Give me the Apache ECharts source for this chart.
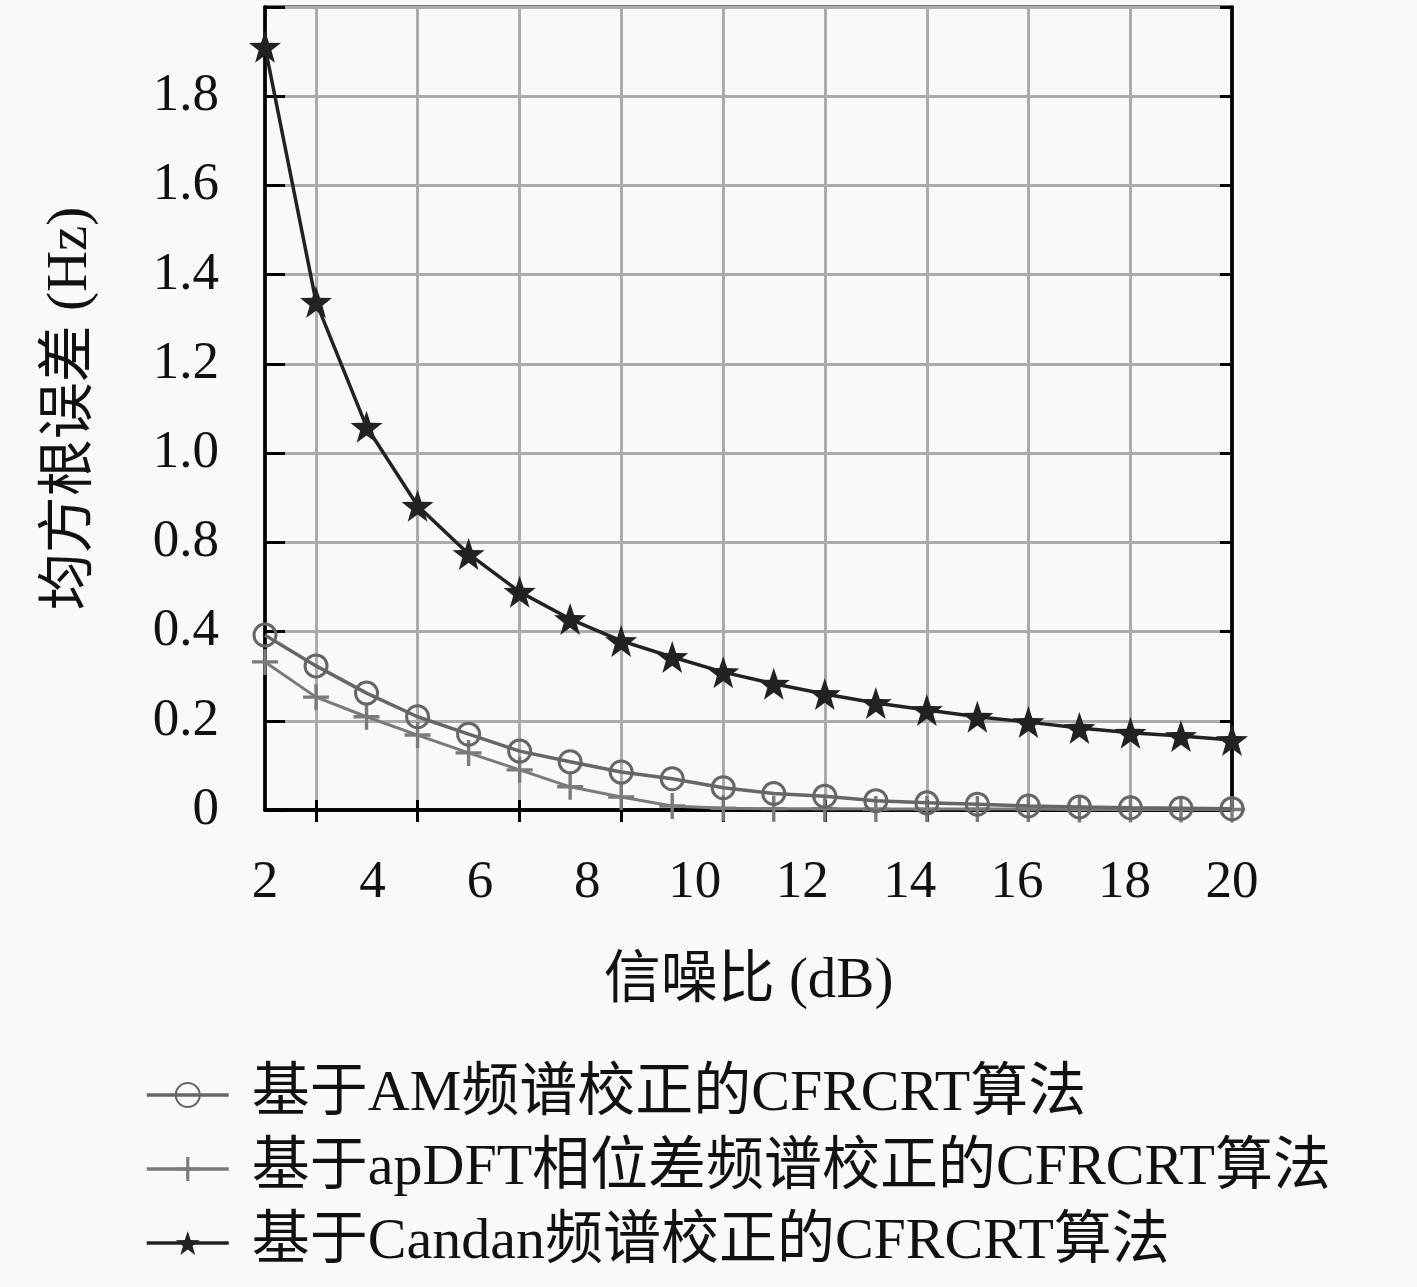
<!DOCTYPE html>
<html>
<head>
<meta charset="utf-8">
<script src="https://cdn.jsdelivr.net/npm/echarts@6/dist/echarts.min.js"></script>
<style>
html,body{margin:0;padding:0;background:#f9f9f9;}
#c{width:1417px;height:1287px;}
</style>
</head>
<body>
<div id="c"></div>
<script>
// SNR positions of the 20 markers (dB)
const snr = [2.00, 2.95, 3.89, 4.84, 5.79, 6.74, 7.68, 8.63, 9.58, 10.53, 11.47, 12.42, 13.37, 14.32, 15.26, 16.21, 17.16, 18.11, 19.05, 20.00];
// series values (Hz)
const amCfrcrt    = [0.392, 0.323, 0.262, 0.209, 0.170, 0.132, 0.108, 0.085, 0.070, 0.050, 0.037, 0.031, 0.021, 0.016, 0.013, 0.009, 0.007, 0.005, 0.004, 0.003];
const apdftCfrcrt = [0.332, 0.253, 0.209, 0.168, 0.128, 0.090, 0.052, 0.029, 0.009, 0.004, 0.003, 0.003, 0.002, 0.002, 0.002, 0.002, 0.001, 0.001, 0.001, 0.001];
const candanCfrcrt= [1.711, 1.139, 0.859, 0.682, 0.574, 0.489, 0.428, 0.379, 0.343, 0.309, 0.283, 0.260, 0.240, 0.224, 0.209, 0.197, 0.184, 0.173, 0.166, 0.157];
// tick labels
const xTickLabels = ['2','4','6','8','10','12','14','16','18','20'];
const xTickValues = [2,4,6,8,10,12,14,16,18,20];
const xGridTicks  = [2.95, 4.84, 6.74, 8.63, 10.53, 12.42, 14.32, 16.21, 18.11];
const yTickLabels = ['0','0.2','0.4','0.8','1.0','1.2','1.4','1.6','1.8'];
const seriesNames = ['基于AM频谱校正的CFRCRT算法','基于apDFT相位差频谱校正的CFRCRT算法','基于Candan频谱校正的CFRCRT算法'];

const FONT = "'Liberation Serif','Noto Sans CJK SC',serif";
const STAR = 'path://M0,-10 L2.35,-3.24 L9.51,-3.09 L3.8,1.24 L5.88,8.09 L0,4 L-5.88,8.09 L-3.8,1.24 L-9.51,-3.09 L-2.35,-3.24 Z';
const PLUS = 'path://M-1.3,-10 L1.3,-10 L1.3,-1.3 L10,-1.3 L10,1.3 L1.3,1.3 L1.3,10 L-1.3,10 L-1.3,1.3 L-10,1.3 L-10,-1.3 L-1.3,-1.3 Z';

function pairs(ys){ return snr.map((x,i)=>[x, ys[i]]); }

const gridColor = '#ababab';
const chart = echarts.init(document.getElementById('c'));
chart.setOption({
  backgroundColor:'#f9f9f9',
  animation:false,
  grid:{left:265, right:185, top:7, bottom:477, show:true, borderColor:'#000', borderWidth:3, backgroundColor:'transparent'},
  xAxis:[{
    type:'value', min:2, max:20, position:'bottom',
    name:'信噪比 (dB)', nameLocation:'middle', nameGap:144,
    nameTextStyle:{fontFamily:FONT, fontSize:57, color:'#111'},
    axisLine:{show:true, lineStyle:{color:'#000', width:3.5}},
    axisTick:{show:true, inside:true, length:10, customValues:xGridTicks, lineStyle:{color:'#000', width:3}},
    axisLabel:{show:true, customValues:xTickValues, margin:47, fontFamily:FONT, fontSize:53, color:'#111',
      formatter:(v)=>{const i=xTickValues.indexOf(v); return i>=0?xTickLabels[i]:'';}},
    splitLine:{show:true, lineStyle:{color:gridColor, width:3}}
  },{
    type:'value', min:2, max:20, position:'top',
    axisLine:{show:true, lineStyle:{color:'#000', width:3.5}},
    axisTick:{show:true, inside:true, length:12, customValues:xGridTicks, lineStyle:{color:'#000', width:3}},
    axisLabel:{show:false}, splitLine:{show:false}
  }],
  yAxis:[{
    type:'value', min:0, max:1.8, interval:0.2, position:'left',
    name:'均方根误差 (Hz)', nameLocation:'middle', nameGap:165, nameRotate:90,
    nameTextStyle:{fontFamily:FONT, fontSize:57, color:'#111'},
    axisLine:{show:true, lineStyle:{color:'#000', width:3.5}},
    axisTick:{show:true, inside:true, length:20, lineStyle:{color:'#000', width:3}},
    axisLabel:{show:true, margin:46, fontFamily:FONT, fontSize:53, color:'#111', padding:[14,0,0,0],
      formatter:(v)=>{const i=Math.round(v/0.2); return yTickLabels[i]!==undefined?yTickLabels[i]:'';}},
    splitLine:{show:true, lineStyle:{color:gridColor, width:3}}
  },{
    type:'value', min:0, max:1.8, interval:0.2, position:'right',
    axisLine:{show:true, lineStyle:{color:'#000', width:3.5}},
    axisTick:{show:true, inside:true, length:12, lineStyle:{color:'#000', width:3}},
    axisLabel:{show:false}, splitLine:{show:false}
  }],
  legend:{
    orient:'vertical', left:140, top:1059, itemWidth:82, itemHeight:30, itemGap:12,
    lineStyle:{width:3.5},
    textStyle:{fontFamily:FONT, fontSize:58, color:'#111', lineHeight:62, padding:[0,0,0,18]},
    data:seriesNames
  },
  series:[{
    name:seriesNames[0], type:'line', data:pairs(amCfrcrt), z:3,
    symbol:'circle', symbolSize:22,
    itemStyle:{color:'rgba(0,0,0,0)', borderColor:'#666', borderWidth:3},
    lineStyle:{color:'#666', width:3.5}
  },{
    name:seriesNames[1], type:'line', data:pairs(apdftCfrcrt), z:2,
    symbol:PLUS, symbolSize:26,
    itemStyle:{color:'#7a7a7a'},
    lineStyle:{color:'#7a7a7a', width:3}
  },{
    name:seriesNames[2], type:'line', data:pairs(candanCfrcrt), z:4,
    symbol:STAR, symbolSize:32,
    itemStyle:{color:'#222'},
    lineStyle:{color:'#222', width:3.5}
  }]
});
</script>
</body>
</html>
